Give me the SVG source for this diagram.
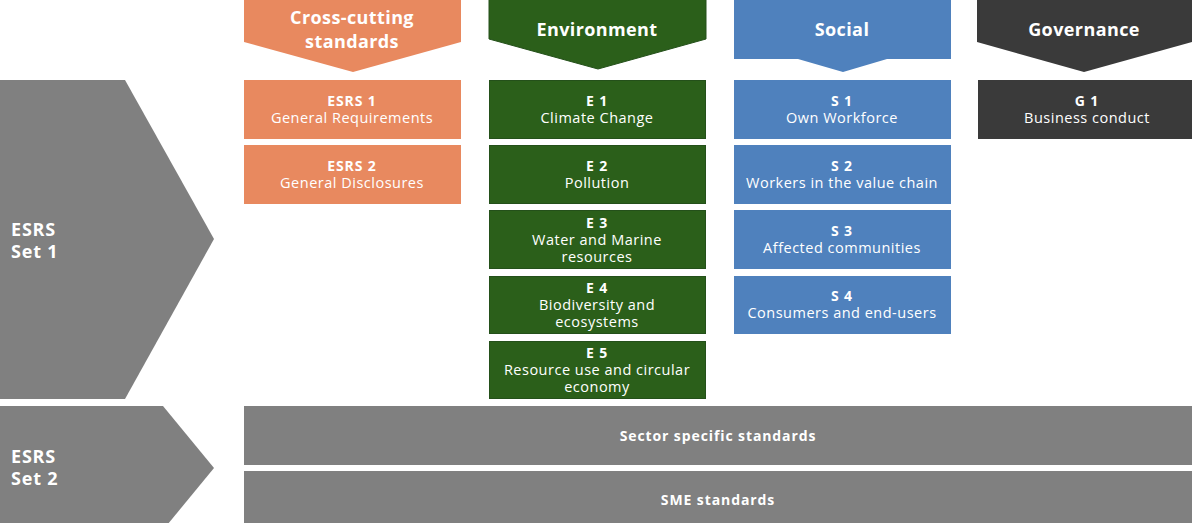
<svg xmlns="http://www.w3.org/2000/svg" width="1192" height="523" viewBox="0 0 1192 523">
<style>
text{font-family:"Open Sans","Liberation Sans",sans-serif;fill:#fff;text-anchor:middle}
.h{font-size:18px;font-weight:700;letter-spacing:0.4px}
.t{font-size:14px;font-weight:700;letter-spacing:0.9px}
.s{font-size:14.5px;letter-spacing:0.5px}
.set{font-size:18px;font-weight:700;text-anchor:start;letter-spacing:0.8px}
.o{fill:#E8895F}
.g{fill:#2B5F1A;stroke:#24501A;stroke-width:1}
.b{fill:#4F81BD}
.d{fill:#3A3A3A}
.gr{fill:#808080}
</style>
<rect width="1192" height="523" fill="#fff"/>
<g id="set1"><polygon class="gr" points="0,80 125,80 214,239 125,399 0,399"/><text class="set" x="11" y="236">ESRS</text><text class="set" x="11" y="258">Set 1</text></g>
<g id="set2"><polygon class="gr" points="0,406 163,406 214,468 163,530 0,530"/><text class="set" x="11" y="463">ESRS</text><text class="set" x="11" y="485">Set 2</text></g>
<g id="hdr-cross"><polygon class="o" points="244,0 461,0 461,42 353,72 244,42"/><text class="h" x="352" y="24">Cross-cutting</text><text class="h" x="352" y="48">standards</text></g>
<g id="hdr-env"><polygon class="g" points="489,-1 706,-1 706,39 598,69 489,39"/><text class="h" x="597" y="36">Environment</text></g>
<g id="hdr-soc"><polygon class="b" points="734,0 951,0 951,59 887,59 843,72 798,59 734,59"/><text class="h" x="842" y="36">Social</text></g>
<g id="hdr-gov"><polygon class="d" points="977,0 1192,0 1192,42 1084,72 977,42"/><text class="h" x="1084" y="36">Governance</text></g>
<g id="esrs1"><rect class="o" x="244" y="80" width="217" height="59"/><text class="t" x="352" y="106">ESRS 1</text><text class="s" x="352" y="123">General Requirements</text></g>
<g id="esrs2"><rect class="o" x="244" y="145" width="217" height="59"/><text class="t" x="352" y="171">ESRS 2</text><text class="s" x="352" y="188">General Disclosures</text></g>
<g id="e1"><rect class="g" x="489.5" y="80.5" width="216" height="58"/><text class="t" x="597" y="106">E 1</text><text class="s" x="597" y="123">Climate Change</text></g>
<g id="e2"><rect class="g" x="489.5" y="145.5" width="216" height="58"/><text class="t" x="597" y="171">E 2</text><text class="s" x="597" y="188">Pollution</text></g>
<g id="e3"><rect class="g" x="489.5" y="210.5" width="216" height="58"/><text class="t" x="597" y="228">E 3</text><text class="s" x="597" y="245">Water and Marine</text><text class="s" x="597" y="262">resources</text></g>
<g id="e4"><rect class="g" x="489.5" y="276.5" width="216" height="57"/><text class="t" x="597" y="293">E 4</text><text class="s" x="597" y="310">Biodiversity and</text><text class="s" x="597" y="327">ecosystems</text></g>
<g id="e5"><rect class="g" x="489.5" y="341.5" width="216" height="57"/><text class="t" x="597" y="358">E 5</text><text class="s" x="597" y="375">Resource use and circular</text><text class="s" x="597" y="392">economy</text></g>
<g id="s1"><rect class="b" x="734" y="80" width="217" height="59"/><text class="t" x="842" y="106">S 1</text><text class="s" x="842" y="123">Own Workforce</text></g>
<g id="s2"><rect class="b" x="734" y="145" width="217" height="59"/><text class="t" x="842" y="171">S 2</text><text class="s" x="842" y="188">Workers in the value chain</text></g>
<g id="s3"><rect class="b" x="734" y="210" width="217" height="59"/><text class="t" x="842" y="236">S 3</text><text class="s" x="842" y="253">Affected communities</text></g>
<g id="s4"><rect class="b" x="734" y="276" width="217" height="58"/><text class="t" x="842" y="301">S 4</text><text class="s" x="842" y="318">Consumers and end-users</text></g>
<g id="g1"><rect class="d" x="978" y="80" width="214" height="59"/><text class="t" x="1087" y="106">G 1</text><text class="s" x="1087" y="123">Business conduct</text></g>
<g id="sector"><rect class="gr" x="244" y="406" width="948" height="59"/><text class="t" x="718" y="441">Sector specific standards</text></g>
<g id="sme"><rect class="gr" x="244" y="471" width="948" height="60"/><text class="t" x="718" y="505">SME standards</text></g>
<g id="connectors"/>
</svg>
